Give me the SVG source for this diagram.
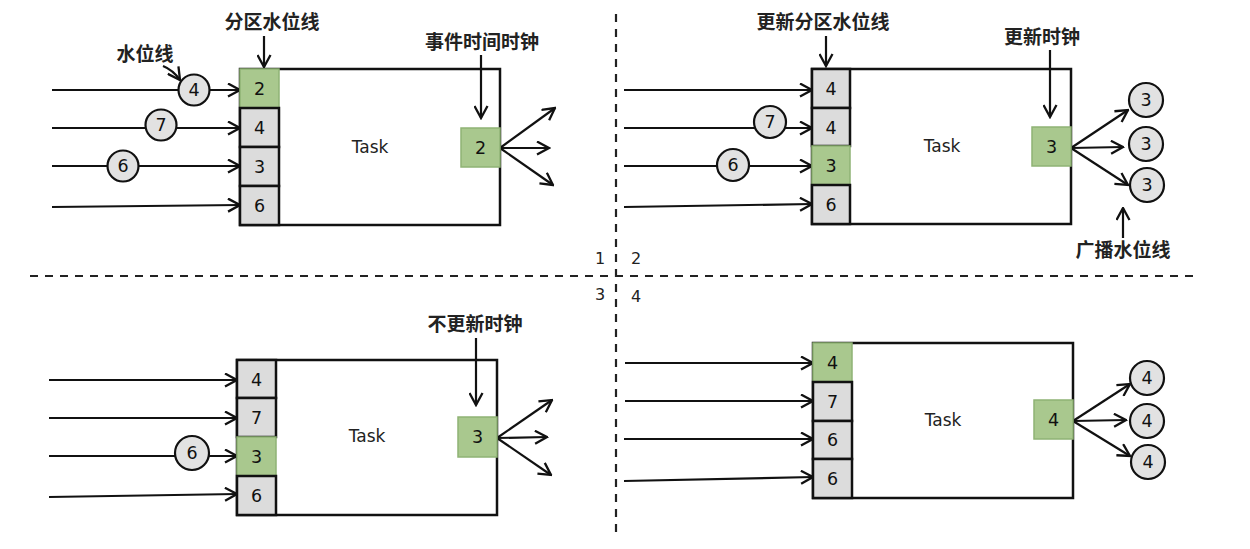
<svg xmlns="http://www.w3.org/2000/svg" width="1250" height="549" viewBox="0 0 1250 549">
<style>
.task{fill:#fff;stroke:#111;stroke-width:2.5}
.cell{fill:#dcdcdc;stroke:#111;stroke-width:2.5}
.gcell{fill:#a9c88e;stroke:#8fb374;stroke-width:1.5}
.circ{fill:#e2e2e2;stroke:#111;stroke-width:2.2}
.num{font-family:"DejaVu Sans",sans-serif;font-size:17.5px;fill:#111;text-anchor:middle;dominant-baseline:central}
.tl{font-family:"DejaVu Sans",sans-serif;font-size:17px;fill:#222;text-anchor:middle;dominant-baseline:central}
.lbl{font-family:"Noto Sans CJK SC",sans-serif;font-size:19px;font-weight:bold;fill:#222;text-anchor:middle;dominant-baseline:central}
.ql{font-family:"DejaVu Sans",sans-serif;font-size:16px;fill:#222;text-anchor:middle;dominant-baseline:central}
.ar{stroke:#111;stroke-width:2.2;fill:none;marker-end:url(#ah)}
.dash{stroke:#222;stroke-width:2.2;stroke-dasharray:8,7;fill:none}
</style>
<defs>
<marker id="ah" viewBox="0 0 15 15" refX="13.5" refY="7.5" markerWidth="15" markerHeight="15" markerUnits="userSpaceOnUse" orient="auto">
<path d="M1.5,1 L13.5,7.5 L1.5,14" fill="none" stroke="#111" stroke-width="2.3"/>
</marker>
</defs>

<g id="dividers">
<line class="dash" x1="616" y1="14" x2="616" y2="532"/>
<line class="dash" x1="30" y1="276" x2="1200" y2="276"/>
<text class="ql" x="600" y="258">1</text>
<text class="ql" x="636" y="258">2</text>
<text class="ql" x="600" y="294">3</text>
<text class="ql" x="636" y="296">4</text>
</g>

<g id="q1-task">
<rect class="task" x="240" y="69" width="260" height="156"/>
<text class="tl" x="370" y="147">Task</text>
</g>
<g id="q2-task">
<rect class="task" x="812" y="69" width="259" height="155"/>
<text class="tl" x="942" y="146">Task</text>
</g>
<g id="q3-task">
<rect class="task" x="237" y="360" width="260" height="155"/>
<text class="tl" x="367" y="436">Task</text>
</g>
<g id="q4-task">
<rect class="task" x="813" y="343" width="260" height="155"/>
<text class="tl" x="943" y="420">Task</text>
</g>

<g id="connectors">
<!-- Q1 -->
<line class="ar" x1="52" y1="90" x2="240" y2="90"/>
<line class="ar" x1="52" y1="128" x2="240" y2="128"/>
<line class="ar" x1="52" y1="166" x2="240" y2="166"/>
<line class="ar" x1="52" y1="207" x2="240" y2="205"/>
<line class="ar" x1="264" y1="36" x2="264" y2="67"/>
<path class="ar" d="M163,66 Q173,70 180,80"/>
<line class="ar" x1="481" y1="55" x2="481" y2="118"/>
<line class="ar" x1="500" y1="148" x2="555" y2="108"/>
<line class="ar" x1="500" y1="148" x2="549" y2="148"/>
<line class="ar" x1="500" y1="148" x2="553" y2="185"/>
<!-- Q2 -->
<line class="ar" x1="624" y1="90" x2="812" y2="90"/>
<line class="ar" x1="624" y1="128" x2="812" y2="128"/>
<line class="ar" x1="624" y1="166" x2="812" y2="166"/>
<line class="ar" x1="624" y1="207" x2="812" y2="204"/>
<line class="ar" x1="826" y1="36" x2="826" y2="66"/>
<line class="ar" x1="1050" y1="50" x2="1050" y2="117"/>
<line class="ar" x1="1071" y1="148" x2="1128" y2="110"/>
<line class="ar" x1="1071" y1="148" x2="1123" y2="147"/>
<line class="ar" x1="1071" y1="148" x2="1128" y2="185"/>
<line class="ar" x1="1123" y1="238" x2="1123" y2="208"/>
<!-- Q3 -->
<line class="ar" x1="49" y1="380" x2="237" y2="380"/>
<line class="ar" x1="49" y1="418" x2="237" y2="418"/>
<line class="ar" x1="49" y1="456" x2="237" y2="456"/>
<line class="ar" x1="49" y1="497" x2="237" y2="494"/>
<line class="ar" x1="476" y1="338" x2="476" y2="405"/>
<line class="ar" x1="497" y1="438" x2="552" y2="400"/>
<line class="ar" x1="497" y1="438" x2="547" y2="437"/>
<line class="ar" x1="497" y1="438" x2="551" y2="475"/>
<!-- Q4 -->
<line class="ar" x1="625" y1="363" x2="813" y2="363"/>
<line class="ar" x1="625" y1="401" x2="813" y2="401"/>
<line class="ar" x1="624" y1="439" x2="813" y2="439"/>
<line class="ar" x1="624" y1="481" x2="813" y2="477"/>
<line class="ar" x1="1073" y1="421" x2="1130" y2="384"/>
<line class="ar" x1="1073" y1="421" x2="1126" y2="420"/>
<line class="ar" x1="1073" y1="421" x2="1130" y2="456"/>
</g>

<!-- Quadrant 1 -->
<g id="q1-partitions">
<rect class="gcell" x="240" y="69" width="39" height="39"/><text class="num" x="259.5" y="89">2</text>
<rect class="cell" x="240" y="108" width="39" height="39"/><text class="num" x="259.5" y="128">4</text>
<rect class="cell" x="240" y="147" width="39" height="39"/><text class="num" x="259.5" y="167">3</text>
<rect class="cell" x="240" y="186" width="39" height="39"/><text class="num" x="259.5" y="206">6</text>
</g>
<g id="q1-clock">
<rect class="gcell" x="461" y="128" width="39" height="39"/><text class="num" x="480.5" y="148">2</text>
</g>
<g id="q1-watermarks">
<circle class="circ" cx="194" cy="90" r="15.5"/><text class="num" x="194" y="90">4</text>
<circle class="circ" cx="161" cy="125" r="15.5"/><text class="num" x="161" y="125">7</text>
<circle class="circ" cx="123" cy="166" r="15.5"/><text class="num" x="123" y="166">6</text>
</g>
<g id="q1-labels">
<text class="lbl" x="145" y="52">水位线</text>
<text class="lbl" x="272" y="20">分区水位线</text>
<text class="lbl" x="482" y="40">事件时间时钟</text>
</g>

<!-- Quadrant 2 -->
<g id="q2-partitions">
<rect class="cell" x="812" y="69" width="38" height="39"/><text class="num" x="831" y="89">4</text>
<rect class="cell" x="812" y="108" width="38" height="38"/><text class="num" x="831" y="128">4</text>
<rect class="gcell" x="812" y="146" width="38" height="39"/><text class="num" x="831" y="166">3</text>
<rect class="cell" x="812" y="185" width="38" height="39"/><text class="num" x="831" y="205">6</text>
</g>
<g id="q2-clock">
<rect class="gcell" x="1032" y="127" width="39" height="39"/><text class="num" x="1051.5" y="147">3</text>
</g>
<g id="q2-watermarks">
<circle class="circ" cx="770" cy="122" r="16"/><text class="num" x="770" y="122">7</text>
<circle class="circ" cx="733" cy="165" r="16"/><text class="num" x="733" y="165">6</text>
</g>
<g id="q2-broadcast">
<circle class="circ" cx="1146" cy="100" r="17"/><text class="num" x="1146" y="100">3</text>
<circle class="circ" cx="1146" cy="144" r="17"/><text class="num" x="1146" y="144">3</text>
<circle class="circ" cx="1147" cy="185" r="17"/><text class="num" x="1147" y="185">3</text>
</g>
<g id="q2-labels">
<text class="lbl" x="823" y="20">更新分区水位线</text>
<text class="lbl" x="1042" y="35">更新时钟</text>
<text class="lbl" x="1123" y="248">广播水位线</text>
</g>

<!-- Quadrant 3 -->
<g id="q3-partitions">
<rect class="cell" x="237" y="360" width="39" height="38"/><text class="num" x="256.5" y="380">4</text>
<rect class="cell" x="237" y="398" width="39" height="39"/><text class="num" x="256.5" y="418">7</text>
<rect class="gcell" x="237" y="437" width="39" height="39"/><text class="num" x="256.5" y="457">3</text>
<rect class="cell" x="237" y="476" width="39" height="39"/><text class="num" x="256.5" y="496">6</text>
</g>
<g id="q3-clock">
<rect class="gcell" x="458" y="417" width="39" height="40"/><text class="num" x="477.5" y="437">3</text>
</g>
<g id="q3-watermarks">
<circle class="circ" cx="192" cy="453" r="17"/><text class="num" x="192" y="453">6</text>
</g>
<g id="q3-labels">
<text class="lbl" x="475" y="322">不更新时钟</text>
</g>

<!-- Quadrant 4 -->
<g id="q4-partitions">
<rect class="gcell" x="813" y="343" width="39" height="39"/><text class="num" x="832.5" y="363">4</text>
<rect class="cell" x="813" y="382" width="39" height="39"/><text class="num" x="832.5" y="402">7</text>
<rect class="cell" x="813" y="421" width="39" height="38"/><text class="num" x="832.5" y="440">6</text>
<rect class="cell" x="813" y="459" width="39" height="39"/><text class="num" x="832.5" y="479">6</text>
</g>
<g id="q4-clock">
<rect class="gcell" x="1034" y="400" width="39" height="39"/><text class="num" x="1053.5" y="420">4</text>
</g>
<g id="q4-broadcast">
<circle class="circ" cx="1147" cy="378" r="17"/><text class="num" x="1147" y="378">4</text>
<circle class="circ" cx="1147" cy="421" r="17"/><text class="num" x="1147" y="421">4</text>
<circle class="circ" cx="1148" cy="462" r="17"/><text class="num" x="1148" y="462">4</text>
</g>
</svg>
